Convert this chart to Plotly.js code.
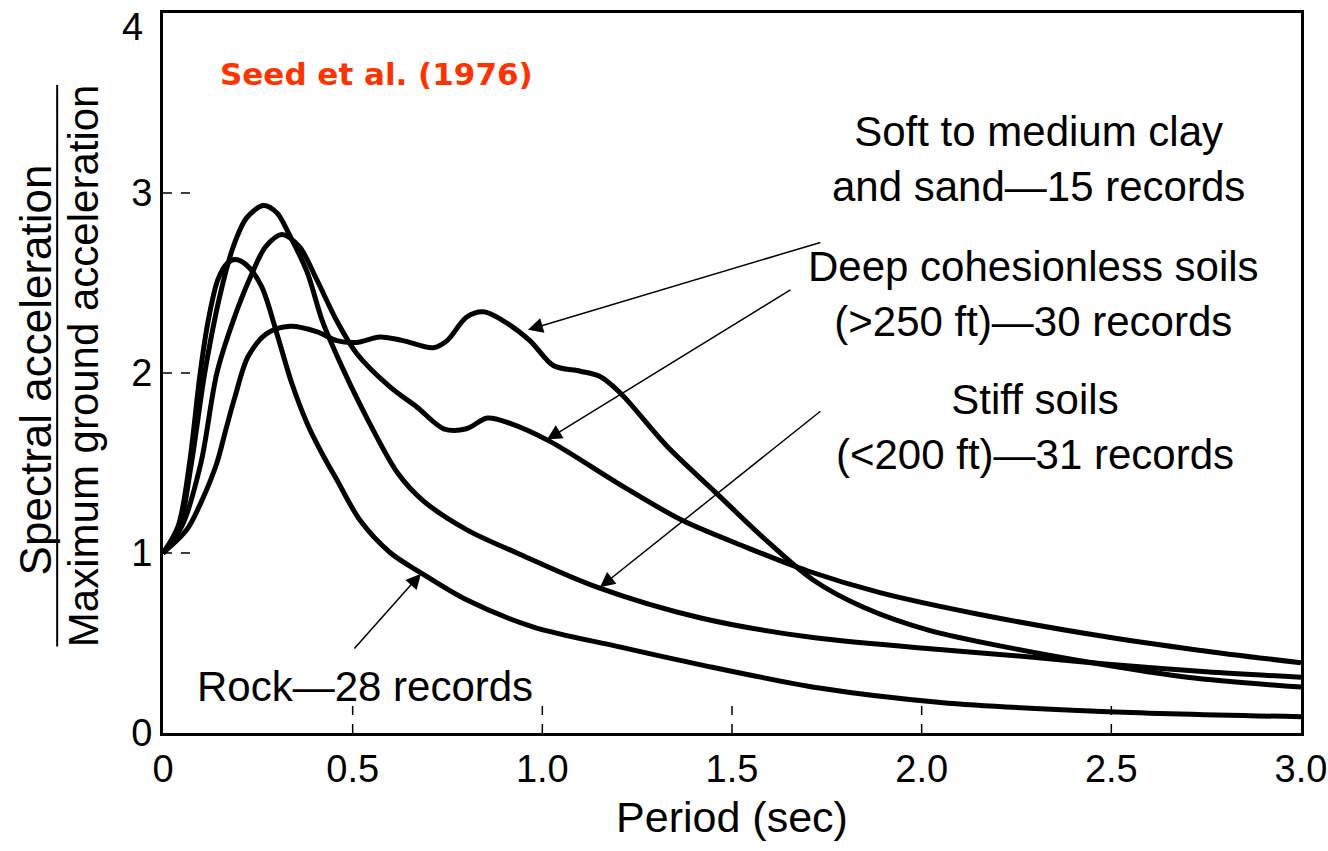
<!DOCTYPE html>
<html>
<head>
<meta charset="utf-8">
<script src="https://cdn.plot.ly/plotly-3.0.1.min.js"></script>
<style>html,body{margin:0;padding:0;background:#fff;}#chart{width:1328px;height:851px;}</style>
</head>
<body>
<div id="chart"></div>
<script>
// ---- Data (period in sec, Sa / PGA) ----
const rockT  = [0, 0.04, 0.07, 0.098, 0.12, 0.145, 0.17, 0.19, 0.22, 0.26, 0.30, 0.34, 0.38, 0.42, 0.46, 0.52, 0.60, 0.68, 0.80, 0.975, 1.20, 1.415, 1.73, 2.05, 2.475, 3.0];
const rockSa = [1, 1.15, 1.5, 2.0, 2.3, 2.52, 2.61, 2.63, 2.60, 2.48, 2.22, 1.94, 1.72, 1.55, 1.40, 1.18, 1.0, 0.89, 0.74, 0.59, 0.48, 0.38, 0.25, 0.17, 0.12, 0.09];

const stiffT  = [0, 0.04, 0.075, 0.11, 0.15, 0.185, 0.22, 0.265, 0.30, 0.335, 0.38, 0.42, 0.475, 0.54, 0.62, 0.686, 0.80, 0.933, 1.144, 1.415, 1.714, 2.07, 2.3, 2.5, 2.75, 3.0];
const stiffSa = [1, 1.12, 1.5, 2.0, 2.43, 2.70, 2.86, 2.93, 2.89, 2.76, 2.56, 2.29, 2.02, 1.74, 1.44, 1.29, 1.13, 1.0, 0.81, 0.64, 0.53, 0.46, 0.42, 0.38, 0.34, 0.31];

const deepT  = [0, 0.05, 0.10, 0.142, 0.185, 0.23, 0.27, 0.313, 0.36, 0.405, 0.458, 0.51, 0.60, 0.67, 0.74, 0.80, 0.855, 0.915, 1.02, 1.197, 1.37, 1.54, 1.70, 1.89, 2.15, 2.47, 2.73, 3.0];
const deepSa = [1, 1.15, 1.5, 2.0, 2.29, 2.53, 2.70, 2.77, 2.70, 2.52, 2.29, 2.11, 1.92, 1.81, 1.69, 1.69, 1.75, 1.72, 1.62, 1.39, 1.18, 1.03, 0.90, 0.78, 0.66, 0.54, 0.46, 0.39];

const softT  = [0, 0.063, 0.10, 0.142, 0.165, 0.19, 0.224, 0.274, 0.335, 0.405, 0.458, 0.51, 0.572, 0.633, 0.712, 0.749, 0.80, 0.845, 0.897, 0.967, 1.03, 1.10, 1.152, 1.205, 1.33, 1.46, 1.58, 1.714, 1.845, 2.02, 2.24, 2.45, 2.7, 3.0];
const softSa = [1, 1.13, 1.28, 1.50, 1.68, 1.87, 2.09, 2.22, 2.26, 2.23, 2.18, 2.17, 2.20, 2.18, 2.14, 2.18, 2.31, 2.34, 2.29, 2.18, 2.04, 2.01, 1.98, 1.89, 1.59, 1.33, 1.09, 0.85, 0.70, 0.57, 0.47, 0.39, 0.31, 0.255];

// ---- Axis ticks ----
const xTickVals  = [0, 0.5, 1.0, 1.5, 2.0, 2.5, 3.0];
const xTickText  = ['0', '0.5', '1.0', '1.5', '2.0', '2.5', '3.0'];
const yTickVals  = [0, 1, 2, 3, 4];
const yTickText  = ['0', '1', '2', '3', '4'];
const xDashTicks = [0.5, 1.0, 1.5, 2.0, 2.5];
const yDashTicks = [1, 2, 3];

// ---- Labels ----
const curveLabels = [
  {text: 'Soft to medium clay<br>and sand—15 records', x: 2.307, y: 3.19},
  {text: 'Deep cohesionless soils<br>(>250 ft)—30 records', x: 2.294, y: 2.44},
  {text: 'Stiff soils<br>(<200 ft)—31 records', x: 2.30, y: 1.70},
  {text: 'Rock—28 records', x: 0.533, y: 0.26}
];
const arrows = [
  {tailX: 1.737, tailY: 2.728, headX: 0.962, headY: 2.24},
  {tailX: 1.658, tailY: 2.467, headX: 1.012, headY: 1.63},
  {tailX: 1.737, tailY: 1.794, headX: 1.152, headY: 0.81},
  {tailX: 0.501, tailY: 0.461, headX: 0.680, headY: 0.885}
];

const lineStyle = {color: '#000', width: 5, shape: 'spline', smoothing: 0.9};
function tr(x, y) { return {x: x, y: y, mode: 'lines', line: lineStyle, hoverinfo: 'skip', showlegend: false}; }
const data = [tr(rockT, rockSa), tr(stiffT, stiffSa), tr(deepT, deepSa), tr(softT, softSa)];

const FONT = 'Liberation Sans, Arial, Helvetica, sans-serif';
const annotations = [];
curveLabels.forEach(l => annotations.push({
  text: l.text, x: l.x, y: l.y, xref: 'x', yref: 'y', showarrow: false,
  xanchor: 'center', yanchor: 'middle', align: 'center',
  font: {family: FONT, size: 42, color: '#000'}
}));
arrows.forEach(a => annotations.push({
  text: '', x: a.headX, y: a.headY, ax: a.tailX, ay: a.tailY, axref: 'x', ayref: 'y',
  xref: 'x', yref: 'y', showarrow: true, arrowhead: 2, arrowsize: 2, arrowwidth: 1.5,
  arrowcolor: '#000', standoff: 0
}));
annotations.push({
  text: '<b>Seed et al. (1976)</b>', xref: 'paper', yref: 'paper', x: 0.048, y: 0.915,
  xanchor: 'left', yanchor: 'middle', showarrow: false,
  font: {family: 'DejaVu Sans, Verdana, sans-serif', size: 31, color: '#ff3300'}
});
// top y tick label, placed just inside the figure (as in the reference)
annotations.push({
  text: yTickText[yTickText.length - 1], xref: 'paper', yref: 'y',
  x: -0.016, y: yTickVals[yTickVals.length - 1], yshift: -14,
  xanchor: 'right', yanchor: 'middle', showarrow: false,
  font: {family: FONT, size: 38, color: '#000'}
});
// y-axis title as a fraction
annotations.push({
  text: 'Spectral acceleration', xref: 'paper', yref: 'paper', x: -0.1125, y: 0.505,
  textangle: -90, showarrow: false, xanchor: 'center', yanchor: 'middle',
  font: {family: FONT, size: 44, color: '#000'}
});
annotations.push({
  text: 'Maximum ground acceleration', xref: 'paper', yref: 'paper', x: -0.070, y: 0.51,
  textangle: -90, showarrow: false, xanchor: 'center', yanchor: 'middle',
  font: {family: FONT, size: 42, color: '#000'}
});

const shapes = [];
xDashTicks.forEach(v => shapes.push({type: 'line', xref: 'x', yref: 'paper', x0: v, x1: v, y0: 0, y1: 0.038,
  line: {color: '#000', width: 1.5, dash: 'dash'}}));
yDashTicks.forEach(v => shapes.push({type: 'line', xref: 'paper', yref: 'y', x0: 0, x1: 0.031, y0: v, y1: v,
  line: {color: '#000', width: 1.5, dash: 'dash'}}));
// fraction bar of y title
shapes.push({type: 'line', xref: 'paper', yref: 'paper', x0: -0.093, x1: -0.093, y0: 0.12, y1: 0.9,
  line: {color: '#000', width: 2}});

const layout = {
  width: 1328, height: 851,
  margin: {l: 163, r: 27, t: 13, b: 118},
  paper_bgcolor: '#fff', plot_bgcolor: '#fff',
  showlegend: false,
  font: {family: FONT, color: '#000'},
  xaxis: {
    range: [0, 3.0], tickvals: xTickVals, ticktext: xTickText, ticks: '',
    showgrid: false, zeroline: false, showline: true, mirror: true, linewidth: 3, linecolor: '#000',
    tickfont: {family: FONT, size: 38, color: '#000'}, ticklabeloverflow: 'allow',
    title: {text: 'Period (sec)', font: {family: FONT, size: 43, color: '#000'}, standoff: 14}
  },
  yaxis: {
    range: [0, 4], tickvals: yTickVals.slice(0, -1), ticktext: yTickText.slice(0, -1), ticks: '',
    showgrid: false, zeroline: false, showline: true, mirror: true, linewidth: 3, linecolor: '#000',
    tickfont: {family: FONT, size: 38, color: '#000'}
  },
  annotations: annotations,
  shapes: shapes
};

Plotly.newPlot('chart', data, layout, {displayModeBar: false, staticPlot: true});
</script>
</body>
</html>
